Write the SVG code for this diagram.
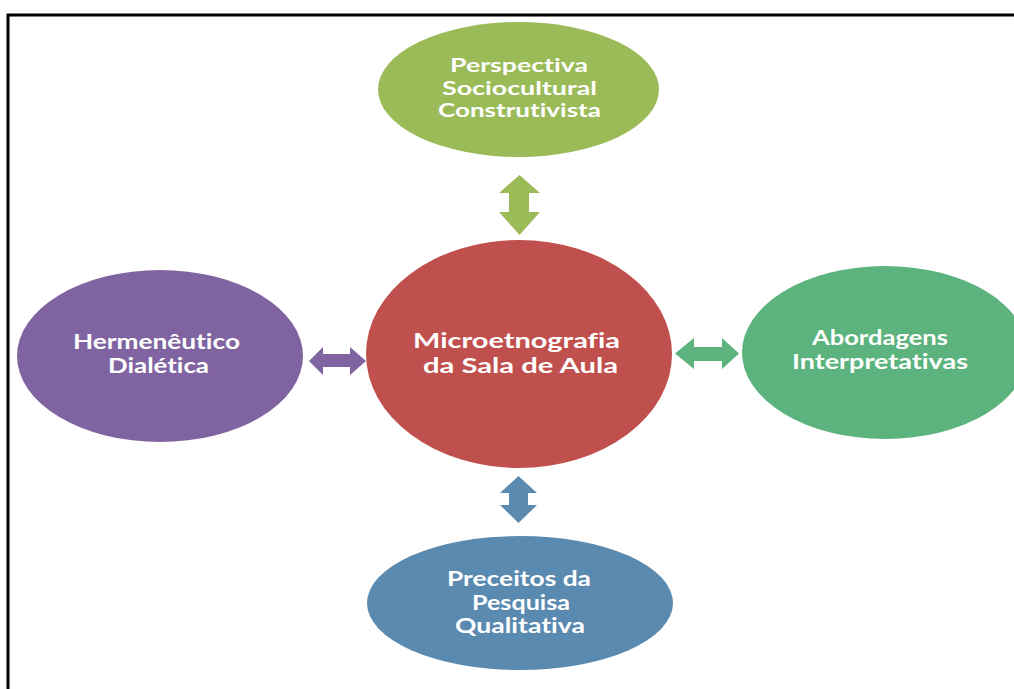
<svg xmlns="http://www.w3.org/2000/svg" width="1014" height="689" viewBox="0 0 1014 689">
<style>
.lbl{font-family:"Lato","Open Sans","Liberation Sans",sans-serif;font-weight:bold;font-size:21px;fill:#ffffff;text-anchor:middle;font-variant-ligatures:none}
.sm{font-size:19px}
.frame{stroke:#000;stroke-width:3;fill:none}
</style>
<rect width="1014" height="689" fill="#ffffff"/>
<path class="frame" d="M8,689 V15 H1014"/>
<g id="connectors">
<path id="c-top" fill="#9BBB59" d="M519.5,175 L540,193 L529,193 L529,212 L540,212 L519.5,235 L499,212 L509,212 L509,193 L499,193 Z"/>
<path id="c-bottom" fill="#5A8AB0" d="M518.5,476 L537,493 L528,493 L528,505 L537,505 L518.5,523 L500,505 L509,505 L509,493 L500,493 Z"/>
<path id="c-left" fill="#8064A2" d="M309,361 L323,347 L323,354 L350,354 L350,347 L366,361 L350,375 L350,367 L323,367 L323,375 Z"/>
<path id="c-right" fill="#5DB37E" d="M675,353.5 L694,338 L694,347 L722,347 L722,338 L739,353.5 L722,369 L722,361 L694,361 L694,369 Z"/>
</g>
<g id="node-top">
<ellipse cx="518.5" cy="89.5" rx="140.5" ry="67.5" fill="#9BBB59"/>
<text class="lbl sm" x="519" y="72" textLength="138" lengthAdjust="spacingAndGlyphs">Perspectiva</text>
<text class="lbl sm" x="519.5" y="94.5" textLength="155" lengthAdjust="spacingAndGlyphs">Sociocultural</text>
<text class="lbl sm" x="519.5" y="117" textLength="163" lengthAdjust="spacingAndGlyphs">Construtivista</text>
</g>
<g id="node-left">
<ellipse cx="160" cy="356" rx="143" ry="86" fill="#8064A2"/>
<text class="lbl" x="156.5" y="349" textLength="167" lengthAdjust="spacingAndGlyphs">Hermenêutico</text>
<text class="lbl" x="158.5" y="373" textLength="101" lengthAdjust="spacingAndGlyphs">Dialética</text>
</g>
<g id="node-center">
<ellipse cx="519" cy="354" rx="153" ry="114" fill="#C0504D"/>
<text class="lbl" x="516.5" y="348" textLength="207" lengthAdjust="spacingAndGlyphs">Microetnografia</text>
<text class="lbl" x="520.5" y="373" textLength="195" lengthAdjust="spacingAndGlyphs">da Sala de Aula</text>
</g>
<g id="node-right">
<ellipse cx="885" cy="352.5" rx="143" ry="86.5" fill="#5DB37E"/>
<text class="lbl" x="880" y="345" textLength="136" lengthAdjust="spacingAndGlyphs">Abordagens</text>
<text class="lbl" x="880" y="369" textLength="176" lengthAdjust="spacingAndGlyphs">Interpretativas</text>
</g>
<g id="node-bottom">
<ellipse cx="520" cy="603" rx="153" ry="67" fill="#5A8AB0"/>
<text class="lbl" x="519" y="586" textLength="144" lengthAdjust="spacingAndGlyphs">Preceitos da</text>
<text class="lbl" x="521" y="610" textLength="98" lengthAdjust="spacingAndGlyphs">Pesquisa</text>
<text class="lbl" x="520" y="633" textLength="130" lengthAdjust="spacingAndGlyphs">Qualitativa</text>
</g>
</svg>
